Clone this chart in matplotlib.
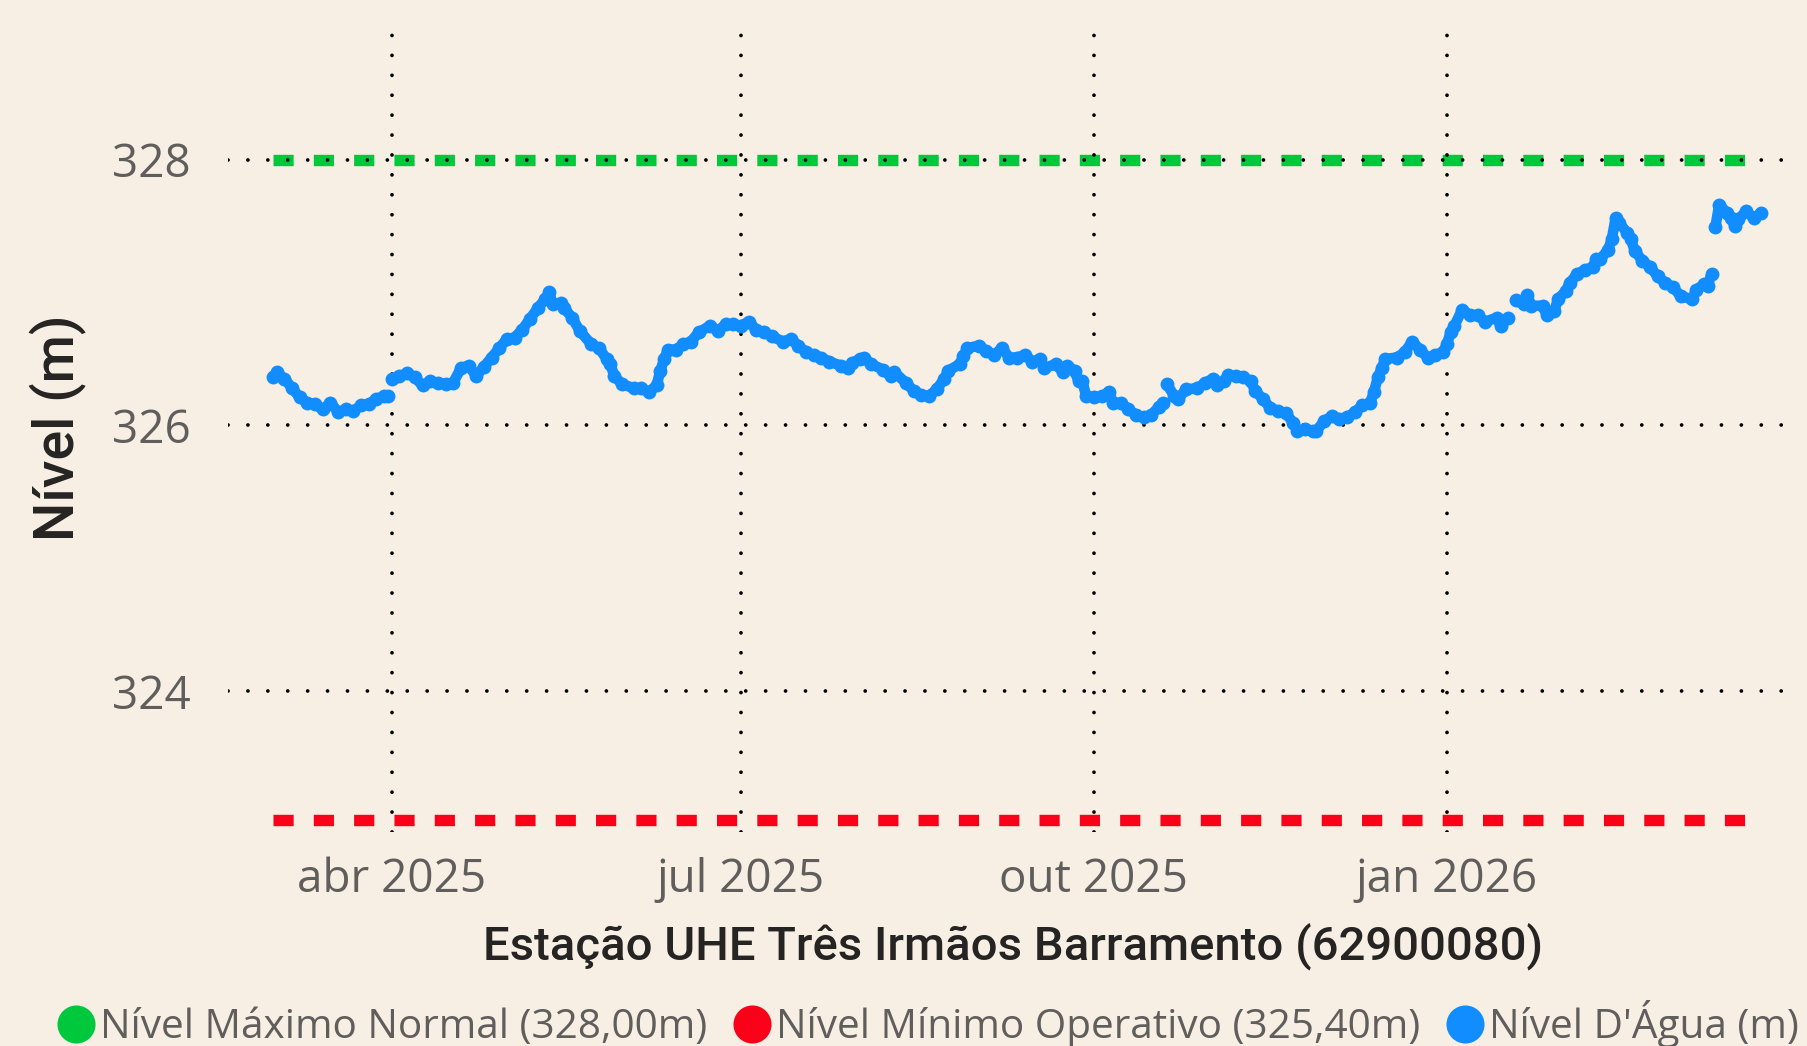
import matplotlib
matplotlib.use("Agg")
import matplotlib.pyplot as plt
import pandas as pd
from matplotlib.lines import Line2D

# ---------------------------------------------------------------------------
# Data
# ---------------------------------------------------------------------------
dates = [
    "2025-03-01", "2025-03-02", "2025-03-04", "2025-03-06", "2025-03-08",
    "2025-03-10", "2025-03-12", "2025-03-14", "2025-03-16", "2025-03-18",
    "2025-03-20", "2025-03-22", "2025-03-24", "2025-03-26", "2025-03-28",
    "2025-03-30", "2025-03-31",
    "2025-04-01", "2025-04-03", "2025-04-05", "2025-04-07", "2025-04-09",
    "2025-04-11", "2025-04-13", "2025-04-15", "2025-04-17", "2025-04-19",
    "2025-04-21", "2025-04-23", "2025-04-25", "2025-04-27", "2025-04-29",
    "2025-05-01", "2025-05-03", "2025-05-05", "2025-05-07", "2025-05-09",
    "2025-05-11", "2025-05-12", "2025-05-13", "2025-05-15", "2025-05-16",
    "2025-05-18", "2025-05-20", "2025-05-23", "2025-05-25", "2025-05-27",
    "2025-05-28", "2025-05-29", "2025-05-31", "2025-06-03", "2025-06-05",
    "2025-06-07", "2025-06-09", "2025-06-10", "2025-06-11", "2025-06-12",
    "2025-06-14", "2025-06-16", "2025-06-18", "2025-06-20", "2025-06-23",
    "2025-06-25", "2025-06-27", "2025-06-29", "2025-07-01", "2025-07-03",
    "2025-07-05", "2025-07-07", "2025-07-09", "2025-07-12", "2025-07-14",
    "2025-07-16", "2025-07-18", "2025-07-20", "2025-07-22", "2025-07-24",
    "2025-07-27", "2025-07-29", "2025-07-30", "2025-08-01", "2025-08-02",
    "2025-08-04", "2025-08-07", "2025-08-09", "2025-08-10", "2025-08-13",
    "2025-08-15", "2025-08-17", "2025-08-19", "2025-08-21", "2025-08-23",
    "2025-08-24", "2025-08-27", "2025-08-28", "2025-08-29", "2025-09-01",
    "2025-09-03", "2025-09-05", "2025-09-07", "2025-09-09", "2025-09-11",
    "2025-09-13", "2025-09-15", "2025-09-17", "2025-09-18", "2025-09-21",
    "2025-09-23", "2025-09-24", "2025-09-26", "2025-09-27", "2025-09-28",
    "2025-09-29", "2025-10-01", "2025-10-03", "2025-10-05", "2025-10-06",
    "2025-10-08", "2025-10-10", "2025-10-12", "2025-10-14", "2025-10-16",
    "2025-10-18", "2025-10-19",
    "2025-10-20", "2025-10-22", "2025-10-23", "2025-10-25", "2025-10-28",
    "2025-10-30", "2025-11-01", "2025-11-02", "2025-11-04", "2025-11-05",
    "2025-11-07", "2025-11-09", "2025-11-11", "2025-11-12", "2025-11-14",
    "2025-11-16", "2025-11-18", "2025-11-20", "2025-11-22", "2025-11-23",
    "2025-11-25", "2025-11-27", "2025-11-28", "2025-11-30", "2025-12-02",
    "2025-12-04", "2025-12-06", "2025-12-08", "2025-12-10", "2025-12-12",
    "2025-12-13", "2025-12-14", "2025-12-15", "2025-12-16", "2025-12-19",
    "2025-12-21", "2025-12-23", "2025-12-25", "2025-12-27", "2025-12-29",
    "2025-12-31", "2026-01-01", "2026-01-02", "2026-01-03", "2026-01-05",
    "2026-01-07", "2026-01-09", "2026-01-11", "2026-01-14", "2026-01-15",
    "2026-01-17",
    "2026-01-19", "2026-01-21", "2026-01-22", "2026-01-23", "2026-01-26",
    "2026-01-27", "2026-01-29", "2026-01-30", "2026-02-01", "2026-02-02",
    "2026-02-04", "2026-02-06", "2026-02-08", "2026-02-09", "2026-02-10",
    "2026-02-12", "2026-02-13", "2026-02-14", "2026-02-15", "2026-02-17",
    "2026-02-18", "2026-02-19", "2026-02-21", "2026-02-23", "2026-02-25",
    "2026-02-27", "2026-03-01", "2026-03-03", "2026-03-06", "2026-03-07",
    "2026-03-09", "2026-03-10", "2026-03-11",
    "2026-03-12", "2026-03-13", "2026-03-15", "2026-03-16", "2026-03-17",
    "2026-03-18", "2026-03-20", "2026-03-22", "2026-03-24",
]
level = [
    326.36, 326.40, 326.35, 326.28, 326.21,
    326.17, 326.16, 326.12, 326.17, 326.10,
    326.12, 326.11, 326.15, 326.16, 326.20,
    326.22, 326.22,
    326.35, 326.37, 326.39, 326.36, 326.30,
    326.33, 326.32, 326.31, 326.32, 326.43,
    326.45, 326.37, 326.44, 326.51, 326.58,
    326.65, 326.66, 326.72, 326.80, 326.88,
    326.95, 327.00, 326.91, 326.92, 326.88,
    326.81, 326.71, 326.61, 326.58, 326.50,
    326.46, 326.37, 326.31, 326.28, 326.28,
    326.25, 326.30, 326.41, 326.50, 326.57,
    326.57, 326.61, 326.63, 326.70, 326.75,
    326.71, 326.76, 326.76, 326.75, 326.78,
    326.72, 326.70, 326.67, 326.63, 326.65,
    326.60, 326.55, 326.53, 326.51, 326.48,
    326.45, 326.43, 326.47, 326.50, 326.51,
    326.46, 326.42, 326.37, 326.40, 326.32,
    326.26, 326.23, 326.22, 326.27, 326.35,
    326.41, 326.46, 326.52, 326.58, 326.60,
    326.56, 326.53, 326.58, 326.51, 326.51,
    326.53, 326.48, 326.50, 326.43, 326.46,
    326.40, 326.45, 326.41, 326.33, 326.33,
    326.22, 326.21, 326.22, 326.25, 326.17,
    326.17, 326.12, 326.08, 326.06, 326.08,
    326.14, 326.17,
    326.31, 326.22, 326.20, 326.27, 326.28,
    326.32, 326.35, 326.30, 326.33, 326.38,
    326.37, 326.36, 326.33, 326.26, 326.20,
    326.13, 326.11, 326.09, 326.02, 325.96,
    325.97, 325.96, 325.96, 326.03, 326.07,
    326.05, 326.06, 326.10, 326.15, 326.17,
    326.25, 326.36, 326.43, 326.50, 326.51,
    326.55, 326.63, 326.57, 326.51, 326.53,
    326.55, 326.61, 326.70, 326.75, 326.87,
    326.83, 326.83, 326.78, 326.81, 326.75,
    326.81,
    326.94, 326.91, 326.98, 326.90, 326.90,
    326.83, 326.86, 326.95, 327.01, 327.07,
    327.14, 327.17, 327.19, 327.25, 327.25,
    327.32, 327.40, 327.56, 327.52, 327.45,
    327.40, 327.31, 327.24, 327.19, 327.12,
    327.07, 327.04, 326.97, 326.95, 327.02,
    327.06, 327.05, 327.14,
    327.49, 327.66, 327.60, 327.56, 327.50,
    327.55, 327.61, 327.56, 327.60,
]
# first day of each run of data after a missing stretch
segment_starts = ["2025-04-01", "2025-10-20", "2026-01-19", "2026-03-12"]

max_normal = 328.0        # green reference line
min_operativo = 323.03    # red reference line (as drawn in the source chart)

tick_dates = ["2025-04-01", "2025-07-01", "2025-10-01", "2026-01-01"]
tick_labels = ["abr 2025", "jul 2025", "out 2025", "jan 2026"]
y_ticks = [324, 326, 328]

legend_labels = ["Nível Máximo Normal (328,00m)",
                 "Nível Mínimo Operativo (325,40m)",
                 "Nível D'Água (m)"]

# ---------------------------------------------------------------------------
# Style
# ---------------------------------------------------------------------------
BG = "#F7EFE4"
GREEN = "#00C83C"
RED = "#FA0019"
BLUE = "#118DFF"
TICK_C = "#605E5C"
TITLE_C = "#252423"
TEXT_FONT = ["Open Sans", "DejaVu Sans"]
TITLE_FONT = ["Roboto", "DejaVu Sans"]
DPI = 200

fig = plt.figure(figsize=(1808 / DPI, 1046 / DPI), dpi=DPI, facecolor=BG)
ax = fig.add_axes([0.126, 0.2046, 0.869, 0.7674], facecolor=BG)

x = pd.to_datetime(dates)
s = pd.Series(level, index=x)
cuts = [x[0]] + list(pd.to_datetime(segment_starts)) + [x[-1] + pd.Timedelta(days=1)]

# reference lines over the data range
ax.plot([x[0], x[-1]], [max_normal, max_normal], color=GREEN, lw=4.1,
        linestyle=(0, (1.77, 1.77)), dash_capstyle="butt", zorder=2)
ax.plot([x[0], x[-1]], [min_operativo, min_operativo], color=RED, lw=4.1,
        linestyle=(0, (1.77, 1.77)), dash_capstyle="butt", zorder=2)

# water level, broken where days are missing
for a, b in zip(cuts[:-1], cuts[1:]):
    seg = s[(s.index >= a) & (s.index < b)]
    ax.plot(seg.index, seg.values, color=BLUE, lw=3.8, marker="o",
            markersize=5.0, markeredgewidth=0, solid_capstyle="round",
            solid_joinstyle="round", zorder=3)

ax.set_xlim(pd.Timestamp("2025-02-17 06:00"), pd.Timestamp("2026-04-02 19:00"))
ax.set_ylim(322.94, 328.98)

ax.set_xticks(pd.to_datetime(tick_dates))
ax.set_xticklabels(tick_labels)
ax.set_yticks(y_ticks)
ax.set_yticklabels([str(v) for v in y_ticks])
ax.tick_params(length=0, labelcolor=TICK_C, labelsize=16.5)
ax.tick_params(axis="y", pad=13.5)
ax.tick_params(axis="x", pad=9)
for lab in ax.get_xticklabels() + ax.get_yticklabels():
    lab.set_family(TEXT_FONT)

for sp in ax.spines.values():
    sp.set_visible(False)

ax.set_axisbelow(False)
ax.grid(True, color="black", lw=1.35, linestyle=(0, (0.01, 5.3)),
        dash_capstyle="round")

# axis titles
fig.text(0.126 + 0.869 / 2, 1 - 947 / 1046,
         "Estação UHE Três Irmãos Barramento (62900080)",
         ha="center", va="center", fontsize=17, color=TITLE_C,
         family=TITLE_FONT, weight="medium")
fig.text(58 / 1808, 0.2046 + 0.7674 / 2 + 0.003, "Nível (m)", rotation=90,
         ha="center", va="center", fontsize=20, color=TITLE_C,
         family=TITLE_FONT, weight="medium")

# legend
handles = [Line2D([], [], linestyle="none", marker="o", markersize=13.7,
                  markeredgewidth=0, color=c) for c in (GREEN, RED, BLUE)]
fig.legend(handles, legend_labels, loc="center left",
           bbox_to_anchor=(57 / 1808, 1 - 1024 / 1046), ncol=3,
           frameon=False, borderpad=0, borderaxespad=0,
           handlelength=0.95, handletextpad=0.12, columnspacing=0.62,
           prop={"family": TEXT_FONT, "size": 14.6},
           labelcolor=TICK_C)

fig.savefig("out.png", dpi=DPI, facecolor=BG)
